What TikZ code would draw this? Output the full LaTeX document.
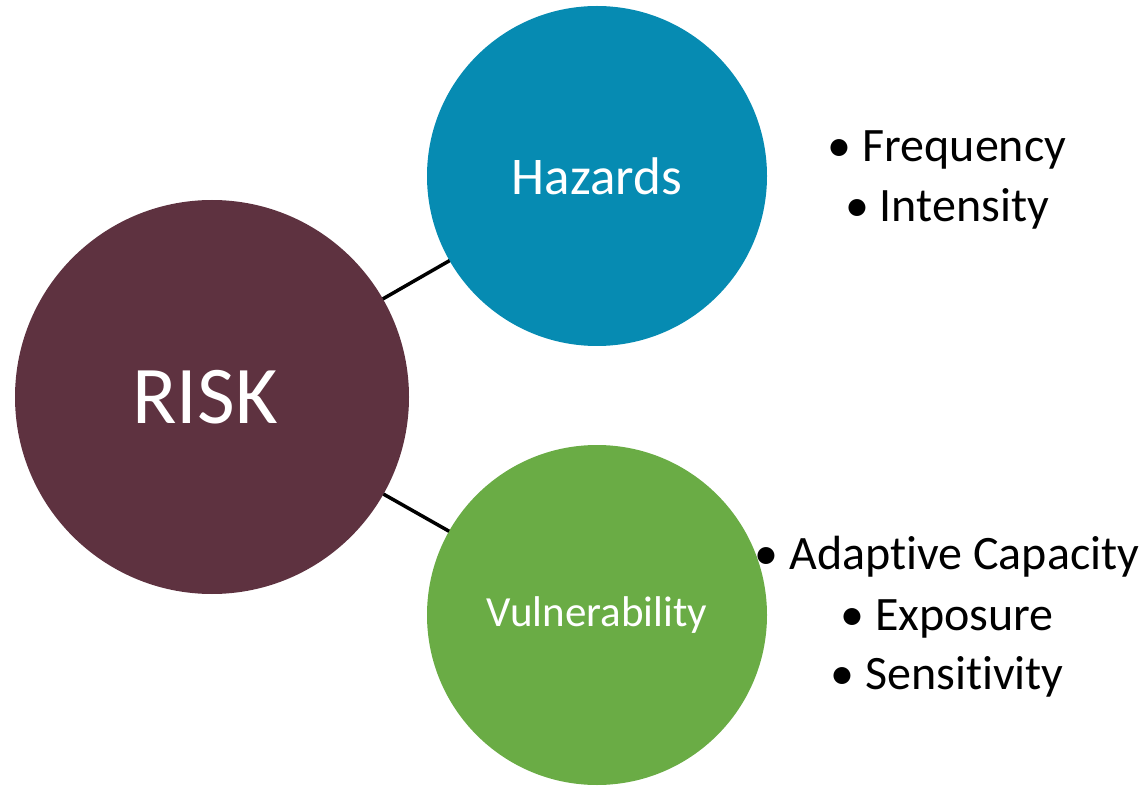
\documentclass[tikz,border=0pt]{standalone}
\usepackage{fontspec}
\setmainfont{Carlito}[Ligatures={NoCommon,NoContextual}]
\definecolor{riskred}{RGB}{94,50,64}
\definecolor{hazblue}{RGB}{6,139,178}
\definecolor{vulgreen}{RGB}{106,172,69}
\begin{document}
\begin{tikzpicture}[x=1pt,y=-1pt,
  ball/.style={circle,inner sep=0pt,outer sep=0pt,text=white,draw=none},
  link/.style={draw=black,line width=3.5pt},
  item/.style={anchor=base,inner sep=0pt,font=\fontsize{48}{58}\selectfont}]
\useasboundingbox (0,0) rectangle (1144,786);
% the three circles
\node[ball,fill=riskred,minimum size=394pt,font=\fontsize{82}{98}\selectfont] (risk) at (212,397) {\hspace*{-14pt}RISK};
\node[ball,fill=hazblue,minimum size=340pt,font=\fontsize{53}{64}\selectfont] (haz) at (597,176) {Hazards};
\node[ball,fill=vulgreen,minimum size=340pt,font=\fontsize{43}{52}\selectfont] (vul) at (597,615) {Vulnerability};
% connectors
\draw[link] (risk) -- (haz);
\draw[link] (risk) -- (vul);
% bullet lists
\node[item] (f1) at (947,162) {• Frequency};
\node[item] (f2) at (947,222) {• Intensity};
\node[item] (v1) at (947,569) {• Adaptive Capacity};
\node[item] (v2) at (947,630) {• Exposure};
\node[item] (v3) at (947,689) {• Sensitivity};
\end{tikzpicture}
\end{document}
